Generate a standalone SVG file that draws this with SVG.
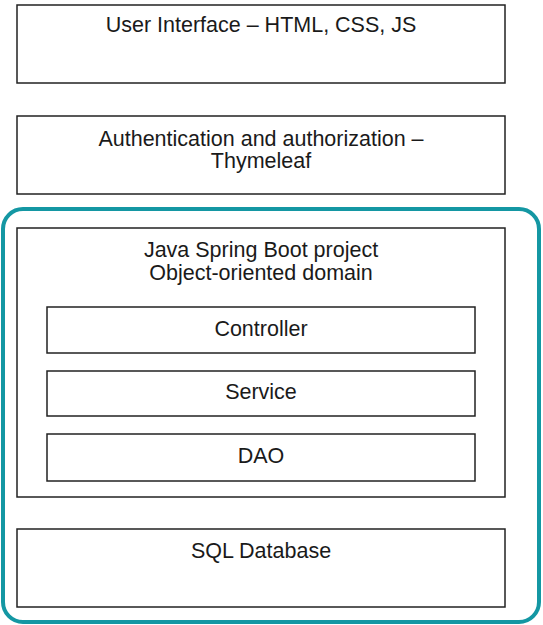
<svg xmlns="http://www.w3.org/2000/svg" width="543" height="625" viewBox="0 0 543 625">
<style>
.box{fill:#fff;stroke:#222;stroke-width:1.5}
.t{font-family:"Liberation Sans",Arial,sans-serif;font-size:21.5px;fill:#1a1a1a;text-anchor:middle}
</style>
<rect width="543" height="625" fill="#fff"/>
<g id="ui"><rect class="box" x="17" y="5" width="488" height="78"/><text class="t" x="261" y="32">User Interface – HTML, CSS, JS</text></g>
<g id="auth"><rect class="box" x="17" y="116" width="488" height="78"/><text class="t" x="261" y="146">Authentication and authorization –</text><text class="t" x="261" y="168">Thymeleaf</text></g>
<g id="backend-group"><rect x="3" y="209" width="536" height="413" rx="20" ry="20" fill="none" stroke="#1497a3" stroke-width="4"/></g>
<g id="spring"><rect class="box" x="17" y="228" width="488" height="269"/><text class="t" x="261" y="257">Java Spring Boot project</text><text class="t" x="261" y="280">Object-oriented domain</text></g>
<g id="controller"><rect class="box" x="47" y="307" width="428" height="46"/><text class="t" x="261" y="336">Controller</text></g>
<g id="service"><rect class="box" x="47" y="371" width="428" height="45"/><text class="t" x="261" y="399">Service</text></g>
<g id="dao"><rect class="box" x="47" y="434" width="428" height="47"/><text class="t" x="261" y="463">DAO</text></g>
<g id="db"><rect class="box" x="17" y="529" width="488" height="78"/><text class="t" x="261" y="558">SQL Database</text></g>
<g id="connectors"/>
</svg>
